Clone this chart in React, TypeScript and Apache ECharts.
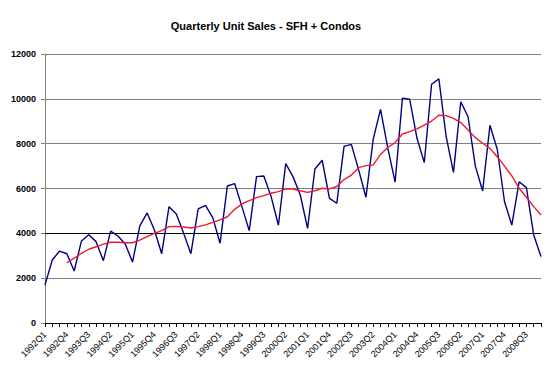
import React, { useEffect, useRef } from "react";
import * as echarts from "echarts";

const years = [1992, 1993, 1994, 1995, 1996, 1997, 1998, 1999, 2000, 2001, 2002, 2003, 2004, 2005, 2006, 2007, 2008, 2009];
const quarters = ["Q1", "Q2", "Q3", "Q4"];
const categories: string[] = [];
years.forEach((y) => quarters.forEach((q) => categories.push(`${y}${q}`)));
categories.length = 69; // 1992Q1 .. 2009Q1

const unitSales = [
  1700, 2810, 3210, 3090, 2320, 3660, 3940, 3630, 2780, 4100,
  3880, 3520, 2720, 4330, 4910, 4150, 3090, 5190, 4860, 4010,
  3090, 5090, 5250, 4700, 3560, 6110, 6220, 5190, 4120, 6530,
  6560, 5640, 4360, 7110, 6530, 5710, 4220, 6870, 7260, 5560,
  5340, 7880, 7970, 6830, 5610, 8200, 9530, 7800, 6280, 10030,
  9980, 8240, 7160, 10650, 10890, 8310, 6720, 9870, 9200, 7000,
  5890, 8820, 7750, 5410, 4370, 6300, 6040, 3930, 2960,
];

const movingAvg: (number | null)[] = [
  null, null, null, 2690, 2890, 3110, 3290, 3400, 3520, 3600,
  3600, 3580, 3580, 3700, 3850, 4000, 4120, 4300, 4310, 4280,
  4240, 4300, 4380, 4490, 4600, 4740, 5070, 5310, 5460, 5590,
  5680, 5790, 5860, 5980, 5980, 5900, 5830, 5900, 6010, 5980,
  6090, 6400, 6600, 6930, 7020, 7050, 7520, 7840, 8050, 8430,
  8540, 8660, 8830, 9010, 9270, 9250, 9130, 8940, 8610, 8270,
  8020, 7790, 7420, 7000, 6560, 6010, 5610, 5190, 4820,
];

const yTicks = { min: 0, max: 12000, interval: 2000 };
const highlightLine = 4000;

export default function App() {
  const ref = useRef<HTMLDivElement>(null);
  useEffect(() => {
    if (!ref.current) return;
    const chart = echarts.init(ref.current, undefined, { renderer: "svg" });
    const font = "Arial, 'Liberation Sans', sans-serif";
    chart.setOption({
      animation: false,
      backgroundColor: "#ffffff",
      title: {
        text: "Quarterly Unit Sales - SFH + Condos",
        left: 261,
        top: 15,
        textAlign: "center",
        textStyle: { fontFamily: font, fontSize: 11, fontWeight: "bold", color: "#000" },
      },
      graphic: [
        { type: "line", shape: { x1: 0, y1: 0.5, x2: 550, y2: 0.5 }, style: { stroke: "#666", lineWidth: 1 } },
        { type: "line", shape: { x1: 0, y1: 376.5, x2: 550, y2: 376.5 }, style: { stroke: "#c8c8c8", lineWidth: 1 } },
      ],
      grid: { left: 45, right: 9, top: 54, bottom: 55 },
      xAxis: {
        type: "category",
        data: categories,
        boundaryGap: false,
        axisLine: { lineStyle: { color: "#000", width: 1 } },
        axisTick: { show: true, interval: 0, length: 4, lineStyle: { color: "#000" } },
        axisLabel: {
          interval: 2,
          rotate: 45,
          margin: 10,
          fontFamily: font,
          fontSize: 9,
          color: "#000",
        },
        splitLine: { show: false },
      },
      yAxis: {
        type: "value",
        min: yTicks.min,
        max: yTicks.max,
        interval: yTicks.interval,
        axisLine: { show: true, lineStyle: { color: "#808080" } },
        axisTick: { show: true, length: 4, lineStyle: { color: "#808080" } },
        axisLabel: {
          fontFamily: font,
          fontSize: 9,
          fontWeight: "bold",
          color: "#000",
          margin: 9,
          formatter: (v: number) => String(v),
        },
        splitLine: { lineStyle: { color: "#808080", width: 1 } },
      },
      series: [
        {
          name: "Unit Sales",
          type: "line",
          data: unitSales,
          symbol: "none",
          lineStyle: { color: "#000080", width: 1.4 },
          z: 3,
          markLine: {
            silent: true,
            symbol: "none",
            label: { show: false },
            lineStyle: { color: "#000", type: "solid", width: 1 },
            data: [{ yAxis: highlightLine }],
            z: 1,
          },
        },
        {
          name: "Moving Average",
          type: "line",
          data: movingAvg,
          symbol: "none",
          connectNulls: false,
          lineStyle: { color: "#ee1a2e", width: 1.4 },
          z: 4,
        },
      ],
    });
    return () => chart.dispose();
  }, []);
  return <div ref={ref} style={{ width: 550, height: 378, margin: -8 }} />;
}
